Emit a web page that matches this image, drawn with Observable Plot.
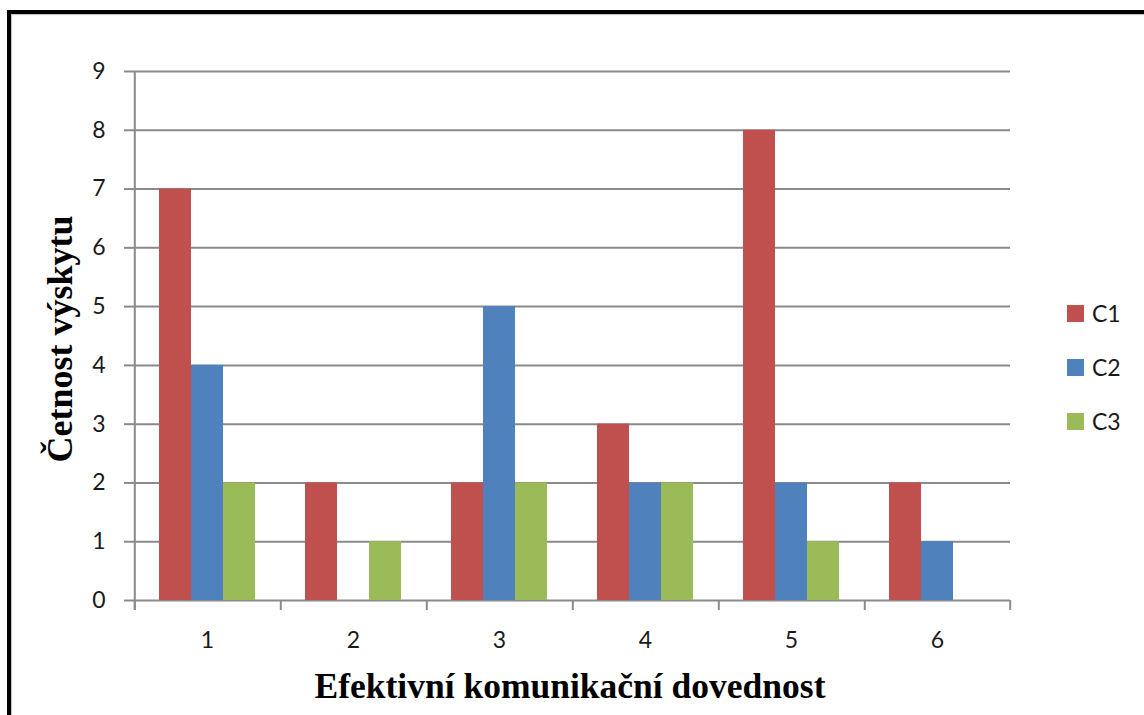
<!DOCTYPE html>
<html>
<head>
<meta charset="utf-8">
<script src="https://cdn.jsdelivr.net/npm/d3@7"></script>
<script src="https://cdn.jsdelivr.net/npm/@observablehq/plot@0.6"></script>
<style>
  html, body { margin: 0; padding: 0; background: #fff; overflow: hidden; }
  #wrap { position: relative; width: 1144px; height: 715px; }
  #wrap svg { position: absolute; left: 0; top: 0; }
  #border {
    position: absolute; left: 7px; top: 10px; width: 1400px; height: 900px;
    border-left: 4px solid #000; border-top: 4px solid #000;
    box-shadow: inset 1px 1px 1px rgba(0,0,0,0.25);
    pointer-events: none;
  }
  #legend { position: absolute; left: 1067px; top: 0; font-family: Lato, sans-serif; font-size: 23px; color: #1a1a1a; }
  #legend .item { position: absolute; left: 0; display: flex; align-items: center; white-space: nowrap; }
  #legend .sw { width: 17px; height: 17px; margin-right: 8px; }
</style>
</head>
<body>
<div id="wrap"><div id="legend"></div><div id="border"></div></div>
<script>
// Skill categories and observed counts for the three groups
const categories = ["1", "2", "3", "4", "5", "6"];
const series = ["C1", "C2", "C3"];
const c1 = [7, 2, 2, 3, 8, 2];
const c2 = [4, 0, 5, 2, 2, 1];
const c3 = [2, 1, 2, 2, 1, 0];
const colors = ["#C0504D", "#4F81BD", "#9BBB59"];
const yTicks = [0, 1, 2, 3, 4, 5, 6, 7, 8, 9];
const xTitle = "Efektivní komunikační dovednost";
const yTitle = "Četnost výskytu";

const valuesBySeries = [c1, c2, c3];
const rows = categories.flatMap((cat, i) =>
  series.map((s, j) => ({cat, series: s, value: valuesBySeries[j][i]}))
);

const W = 1144, H = 715;
const mL = 132, mR = 133, mT = 71, mB = 115;
const facetW = (W - mL - mR) / categories.length;
const outerPad = 0.75;
const bw = facetW / (series.length + 2 * outerPad);
const edge = (0.5 + outerPad) * bw; // distance from a bar group's outer bar centre to the facet edge
const plotH = H - mT - mB;
const gridColor = "#8a8a8a";

const chart = Plot.plot({
  width: W, height: H,
  marginLeft: mL, marginRight: mR, marginTop: mT, marginBottom: mB,
  style: {fontFamily: "Lato, sans-serif", fontSize: "23px", color: "#1a1a1a", background: "transparent"},
  fx: {domain: categories, padding: 0, label: null},
  x: {domain: series, paddingInner: 0, paddingOuter: outerPad, axis: null},
  y: {domain: [0, 9], label: null},
  color: {domain: series, range: colors},
  marks: [
    Plot.gridY(yTicks, {stroke: gridColor, strokeOpacity: 1, strokeWidth: 2}),
    Plot.barY(rows, {fx: "cat", x: "series", y: "value", fill: "series"}),
    Plot.axisY(yTicks, {tickSize: 10, tickPadding: 19, stroke: gridColor, strokeWidth: 2, fill: "#1a1a1a",
      tickFormat: d3.format("d"), label: null}),
    Plot.axisFx({anchor: "bottom", tickSize: 0, tickPadding: 31, label: null, fill: "#1a1a1a"}),
    // category boundary ticks below the baseline
    Plot.ruleX(categories, {fx: d => d, x: () => "C1", dx: -edge, insetTop: plotH, insetBottom: -10, stroke: gridColor, strokeWidth: 2}),
    Plot.ruleX(categories.slice(-1), {fx: d => d, x: () => "C3", dx: edge, insetTop: plotH, insetBottom: -10, stroke: gridColor, strokeWidth: 2}),
    // value axis line
    Plot.ruleX(categories.slice(0, 1), {fx: d => d, x: () => "C1", dx: -edge, insetBottom: -10, stroke: gridColor, strokeWidth: 2})
  ]
});

const wrap = document.getElementById("wrap");
wrap.insertBefore(chart, wrap.firstChild);

const svg = d3.select(chart);
// tick label typeface (applied to every axis text drawn so far)
svg.selectAll("text")
  .style("font-size", "23px")
  .style("font-family", "Lato, sans-serif");

// axis titles
svg.append("text")
  .attr("x", 570).attr("y", 698)
  .attr("text-anchor", "middle")
  .style("font-family", "'Liberation Serif', serif")
  .style("font-weight", "bold").style("font-size", "35.5px").attr("fill", "#000")
  .text(xTitle);
svg.append("text")
  .attr("transform", "translate(72,339) rotate(-90)")
  .attr("text-anchor", "middle")
  .style("font-family", "'Liberation Serif', serif")
  .style("font-weight", "bold").style("font-size", "36px").attr("fill", "#000")
  .text(yTitle);

// legend
const legend = d3.select("#legend");
const legendY = [313, 367, 421];
series.forEach((s, i) => {
  const item = legend.append("div").attr("class", "item").style("top", (legendY[i] - 14) + "px");
  item.append("div").attr("class", "sw").style("background", colors[i]);
  item.append("span").text(s);
});
</script>
</body>
</html>
